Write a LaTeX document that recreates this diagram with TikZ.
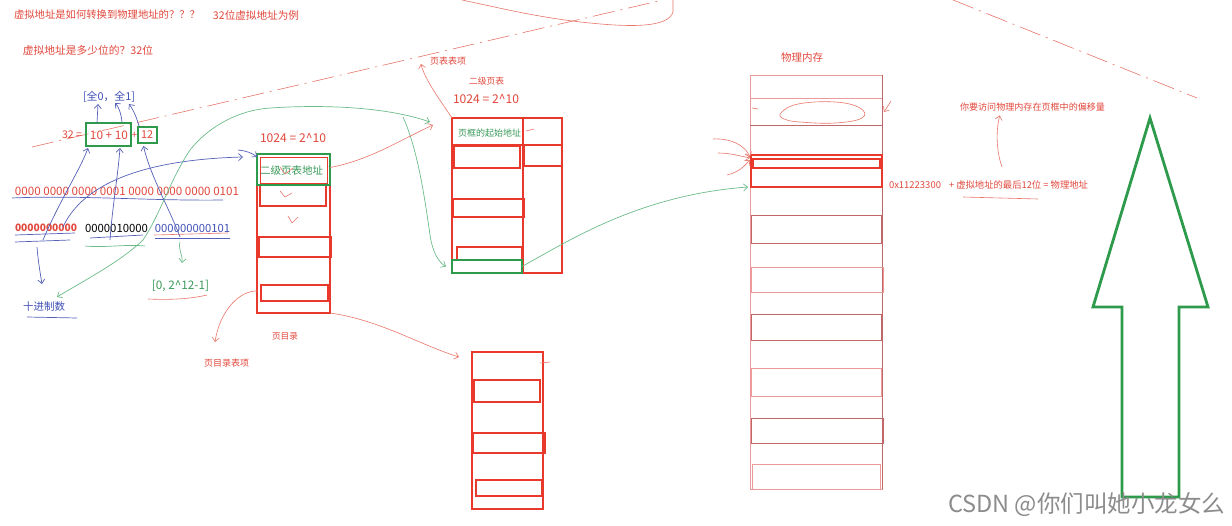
\documentclass[tikz,border=0pt]{standalone}
\usepackage{fontspec}
\usepackage{graphicx}
\setmainfont{Noto Sans CJK SC}
\usetikzlibrary{arrows.meta}
\definecolor{rtext}{HTML}{E2483C}
\definecolor{rbox}{HTML}{E8392C}
\definecolor{gbox}{HTML}{2E9A4C}
\definecolor{gtext}{HTML}{3A9A5A}
\definecolor{gline}{HTML}{6DBB8A}
\definecolor{bline}{HTML}{5560B8}
\definecolor{btext}{HTML}{4050B8}
\definecolor{rline}{HTML}{E8766A}
\definecolor{memc}{HTML}{EC9A9A}
\definecolor{memd}{HTML}{C06868}
\definecolor{wmgray}{HTML}{8C8C8C}
\newcommand\tx[6]{\node[#1,inner sep=0pt] (#2) at ({(#3+#4)/2},#5) {\resizebox{\dimexpr #4pt-#3pt\relax}{!}{#6}};}
\newcommand\bx[6]{\node[#2,inner sep=0pt,outer sep=0pt,anchor=north west,minimum width={(#5-#3)*1pt},minimum height={(#6-#4)*1pt}] (#1) at (#3,#4) {};}
\begin{document}
\begin{tikzpicture}[x=1pt,y=-1pt,
  font=\fontsize{10}{12}\selectfont,
  rt/.style={text=rtext},
  gt/.style={text=gtext},
  btx/.style={text=btext},
  kt/.style={text=black},
  wm/.style={text=wmgray},
  fat/.style={draw=rbox,line width=2.6pt},
  gfat/.style={draw=gbox,line width=2.8pt},
  rpen/.style={draw=rline,line width=0.6pt},
  gpen/.style={draw=gline,line width=0.7pt},
  bpen/.style={draw=bline,line width=0.7pt},
  mem/.style={draw=memc,line width=0.8pt},
  memk/.style={draw=memd,line width=0.8pt},
  hd/.style={-{Straight Barb[length=4pt,width=7pt]}},
  hdd/.style={{Straight Barb[length=4pt,width=7pt]}-{Straight Barb[length=4pt,width=7pt]}}]
\useasboundingbox (0,0) rectangle (1232,525);
\fill[white] (0,0) rectangle (1232,525);

% dashed long lines and top scribble
\draw[rpen,dash pattern=on 22pt off 6pt on 2pt off 6pt] (32,147) -- (663,0);
\draw[rpen,dash pattern=on 22pt off 6pt on 2pt off 6pt] (953,0) -- (1197,98);
\draw[rpen] (462,0) .. controls (500,8) and (540,18) .. (590,23) .. controls (630,27) and (668,28) .. (673,12) -- (673,0);

% titles
\tx{rt}{t1}{14}{200}{15}{虚拟地址是如何转换到物理地址的？？？}
\tx{rt}{t1b}{213}{299}{15}{32位虚拟地址为例}
\tx{rt}{t2}{23}{153}{50}{虚拟地址是多少位的？32位}

% 32 = 10 + 10 + 12
\tx{btx}{q}{83}{135}{97}{[全0，全1]}
\tx{rt}{eq}{62}{82}{135}{32 =}
\bx{g1}{gfat}{86}{123}{131}{146}
\bx{g2}{gfat}{138}{127}{157}{143}
\tx{rt}{ten}{90}{128}{135}{10 + 10}
\node[rt,inner sep=0pt] (plus) at (134.5,135) {+};
\tx{rt}{tw}{141}{153}{135}{12}

% binary strings
\tx{rt}{bin}{15}{239}{191}{0000 0000 0000 0001 0000 0000 0000 0101}
\tx{rt,font=\fontsize{10}{12}\selectfont\bfseries}{b1}{15}{77}{228}{0000000000}
\tx{kt}{b2}{85}{148}{228}{0000010000}
\tx{btx}{b3}{155}{230}{228}{000000000101}
\tx{btx}{dec}{23}{65}{307}{十进制数}
\tx{gt}{rng}{152}{209}{286}{[0, 2\textasciicircum 12-1]}

% underlines
\draw[bpen] (12,198) .. controls (80,195) and (150,201) .. (223,200);
\draw[bpen] (15,235) -- (75,233);
\draw[bpen] (15,242) -- (70,240);
\draw[gpen] (85,246) .. controls (105,248) and (125,244) .. (145,246);
\draw[bpen] (90,238) -- (143,235);
\draw[rpen] (154,235) -- (228,233);
\draw[bpen] (155,238) -- (230,238);
\draw[bpen] (27,317) -- (77,318);
\draw[rpen] (148,299) .. controls (170,300) and (190,299) .. (207,295);

% page directory
\tx{rt}{pdn}{260}{326}{138}{1024 = 2\textasciicircum 10}
\bx{pd}{fat}{257}{154}{330}{313}
\bx{pdr2}{fat}{260}{185}{326}{206}
\bx{pdr4}{fat}{259}{237}{331}{257}
\bx{pdr6}{fat}{261}{285}{328}{301}
\bx{pdg}{gfat}{257}{154}{330}{185}
\bx{pdgi}{draw=rbox,line width=1pt}{260}{157}{327}{183}
\tx{gt}{pdt}{260}{323}{171}{二级页表地址}
\draw[rpen] (280,167) -- (285,174) -- (293,168);
\draw[rpen] (280,191) -- (285,197) -- (292,193);
\draw[rpen] (288,216) -- (292,223) -- (298,217);
\tx{rt}{pdl}{272}{298}{336}{页目录}
\tx{rt}{pdel}{204}{249}{363}{页目录表项}

% page table
\tx{rt}{ptel}{430}{466}{61}{页表表项}
\tx{rt}{ptl2}{469}{504}{81}{二级页表}
\tx{rt}{ptn}{453}{519}{99}{1024 = 2\textasciicircum 10}
\bx{ptl}{fat}{452}{118}{523}{273}
\bx{ptr}{fat}{523}{118}{562}{273}
\draw[draw=rbox,line width=1.6pt] (ptl.north west) ++(0,27) -- +(71,0);
\bx{ptr2}{fat}{454}{146}{520}{168}
\bx{ptr4}{fat}{453}{199}{524}{217}
\bx{ptr6}{fat}{457}{247}{522}{260}
\bx{ptrr}{fat}{524}{145}{562}{166}
\bx{ptg}{gfat}{452}{260}{522}{273}
\tx{gt}{ptt}{458}{521}{133}{页框的起始地址}
\draw[rpen] (526,131) -- (534,129);

% bottom table
\bx{bt}{fat}{472}{352}{543}{509}
\bx{btr2}{fat}{474}{380}{540}{402}
\bx{btr4}{fat}{473}{433}{545}{453}
\bx{btr6}{fat}{476}{480}{542}{496}
\draw[rpen] (540,363) -- (550,362);

% physical memory
\tx{rt}{pml}{781}{823}{58}{物理内存}
\bx{pm}{mem}{750}{75}{882}{489}
\draw[memk] (pm.north east) -- (pm.south east);
\draw[mem] (750,98) -- (882,98);
\draw[memk] (750,125) -- (882,125);
\draw[rpen] plot[smooth cycle,tension=0.7] coordinates {(781,113) (798,104) (835,102) (860,108) (862,118) (835,123) (800,122) (784,119)};
\draw[rpen] (752,108) -- (758,109);
\bx{pme}{draw=rbox,line width=2.2pt}{751}{155}{882}{187}
\bx{pmi}{draw=rbox,line width=1.8pt}{753}{159}{880}{168}
\bx{m1}{memk}{751}{215}{881}{243}
\bx{m2}{mem}{751}{267}{883}{292}
\bx{m3}{memk}{751}{314}{881}{340}
\bx{m4}{mem}{751}{368}{881}{396}
\bx{m5}{memk}{751}{418}{883}{443}
\bx{m6}{mem}{752}{464}{880}{489}

% right-hand texts
\tx{rt}{off}{960}{1105}{107}{你要访问物理内存在页框中的偏移量}
\tx{rt}{hex}{889}{941}{185}{0x11223300}
\tx{rt}{sum}{949}{1088}{185}{+ 虚拟地址的最后12位 = 物理地址}
\draw[rpen] (963,197) -- (1038,199);

% big green arrow
\draw[draw=gbox,line width=2.8pt,line join=miter] (1150,118) -- (1208,307) -- (1179,307) -- (1179,497) -- (1122,497) -- (1122,307) -- (1093,307) -- cycle;

% watermark
\tx{wm}{wmk}{948}{1225}{505}{CSDN @你们叫她小龙女么}

% free-end coordinates
\coordinate (u1) at (43,240);
\coordinate (u2) at (110,240);
\coordinate (u3) at (180,237);
\coordinate (u4) at (37,247);
\coordinate (decin) at (42,284);
\coordinate (u5) at (63,227);
\coordinate (bst) at (238,150);
\coordinate (qa1) at (98,104);
\coordinate (qa2) at (115,103);
\coordinate (qa3) at (129,104);
\coordinate (gA1) at (57,297);
\coordinate (gB1) at (403,117);
\coordinate (gs) at (180,242);
\coordinate (ge) at (182,263);
\coordinate (ptin) at (421,64);
\coordinate (pdin) at (215,342);
\coordinate (r1) at (713,139);
\coordinate (r2) at (718,153);
\coordinate (r3) at (727,175);
\coordinate (rs) at (891,101);
\coordinate (oS) at (1002,167);

% blue connectors
\draw[bpen,hd] (u1) .. controls (60,200) and (80,170) .. ([shift={(2,2)}]g1.south west);
\draw[bpen,hd] (u2) .. controls (112,210) and (118,175) .. ([shift={(-11,2)}]g1.south east);
\draw[bpen,hd] (u3) .. controls (170,210) and (150,175) .. ([shift={(-4,3)}]g2.south);
\draw[bpen,hd] ([xshift=11pt]g1.north west) -- (qa1);
\draw[bpen,hd] ([shift={(-9,-1)}]g1.north east) .. controls (121,112) and (118,106) .. (qa2);
\draw[bpen,hd] ([shift={(1,-1)}]g2.north west) .. controls (136,115) and (132,108) .. (qa3);
\draw[bpen,hd] (u4) .. controls (38,260) and (40,272) .. (decin);
\draw[bpen,hd] (u5) .. controls (80,190) and (130,160) .. ([shift={(-14,3)}]pdg.north west);
\draw[bpen,hd] (bst) .. controls (247,151) and (252,153) .. ([shift={(0,3)}]pdg.north west);

% green connectors
\draw[gpen,hdd] (gA1) .. controls (85,280) and (120,262) .. (143,240)
   .. controls (160,215) and (170,180) .. (190,150)
   .. controls (210,125) and (240,110) .. (270,108)
   .. controls (330,104) and (390,108) .. ([shift={(-22,4)}]ptl.north west);
\draw[gpen,hd] (gB1) .. controls (418,150) and (425,200) .. (430,235) .. controls (433,255) and (440,263) .. ([shift={(-6,0)}]ptg.west);
\draw[gpen,hd] (gs) .. controls (178,250) and (183,255) .. (ge);
\draw[gpen,hd] (ptg.east) .. controls (570,240) and (640,195) .. ([shift={(-3,0)}]pme.south west);

% red connectors
\draw[rpen,hd] ([shift={(0,-2)}]pdg.east) .. controls (370,160) and (400,140) .. ([shift={(-19,7)}]ptl.north west);
\draw[rpen,hd] (ptl.north west) .. controls (440,100) and (425,80) .. (ptin);
\draw[rpen,hd] ([shift={(-3,-2)}]pdr6.west) .. controls (240,290) and (220,310) .. (pdin);
\draw[rpen,hd] (pd.south east) .. controls (380,320) and (420,345) .. ([shift={(-13,5)}]bt.north west);
\draw[rpen,hd] (r1) .. controls (730,138) and (745,145) .. ([shift={(-1,2)}]pme.north west);
\draw[rpen,hd] (r2) .. controls (730,153) and (740,156) .. ([shift={(-1,3)}]pme.north west);
\draw[rpen,hd] (r3) .. controls (740,172) and (745,165) .. ([shift={(-1,5)}]pme.north west);
\draw[rpen,hd] (rs) -- ([shift={(2,37)}]pm.north east);
\draw[rpen,hd] (oS) .. controls (996,150) and (996,130) .. ([shift={(40,4)}]off.south west);
\end{tikzpicture}
\end{document}
